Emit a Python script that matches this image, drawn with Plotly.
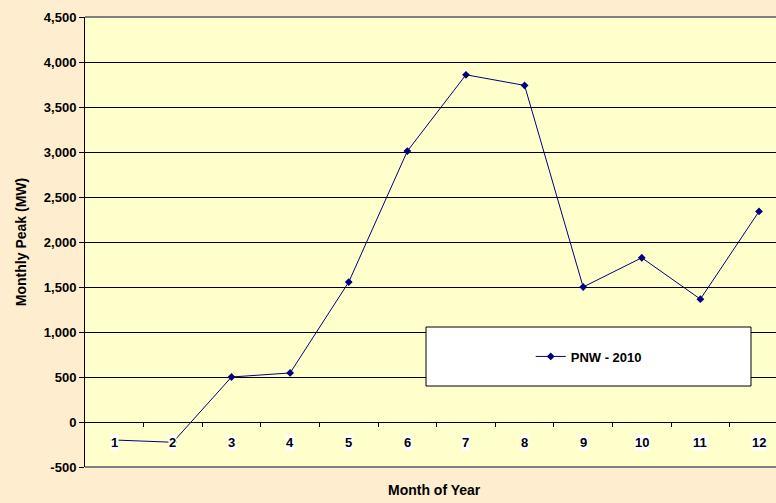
import plotly.graph_objects as go

months = list(range(1, 13))
month_labels = [str(m) for m in months]
peak_mw = [-200, -225, 500, 545, 1555, 3010, 3858, 3740, 1500, 1825, 1365, 2340]
series_name = "PNW - 2010"

y_ticks = list(range(-500, 5000, 500))
y_ticklabels = [f"{v:,}" for v in y_ticks]
cat_boundaries = [m + 0.5 for m in months[:-1]]

navy = "#000080"
font_family = "Liberation Sans, Arial, sans-serif"

fig = go.Figure()
fig.add_trace(go.Scatter(
    x=months, y=peak_mw, name=series_name, mode="lines+markers",
    line=dict(color=navy, width=1),
    marker=dict(symbol="diamond", size=6, color=navy),
))

# category labels sitting just below the zero line, with white boxes
for m, lab in zip(months, month_labels):
    fig.add_annotation(
        x=m, y=-233, xref="x", yref="y", text=lab, showarrow=False,
        bgcolor="white", borderpad=0,
        font=dict(family=font_family, size=13, color="black", weight="bold"),
    )

fig.update_layout(
    width=776, height=503,
    margin=dict(l=85, r=0, t=17, b=36),
    paper_bgcolor="#FFEDCF",
    plot_bgcolor="#FFFFCC",
    font=dict(family=font_family, size=12, color="black"),
    showlegend=True,
    legend=dict(
        x=0.729, y=0.2456, xanchor="center", yanchor="middle",
        bgcolor="rgba(0,0,0,0)", borderwidth=0,
        font=dict(family=font_family, size=13, color="black", weight="bold"),
        itemwidth=30,
    ),
    xaxis=dict(
        range=[0.5, 12.29], tickvals=cat_boundaries,
        ticktext=["" for _ in cat_boundaries],
        ticks="outside", ticklen=4, tickcolor="black",
        showgrid=False, zeroline=False, showline=False,
        anchor="free", position=0.1,
    ),
    yaxis=dict(
        range=[-500, 4500], tickvals=y_ticks, ticktext=y_ticklabels,
        ticks="outside", ticklen=5, tickcolor="black",
        showgrid=True, gridcolor="black", gridwidth=1,
        zeroline=True, zerolinecolor="black", zerolinewidth=1,
        showline=True, linecolor="black", linewidth=1,
        tickfont=dict(family=font_family, size=13, color="black", weight="bold"),
        title=dict(text="Monthly Peak (MW)", standoff=13,
                   font=dict(family=font_family, size=14, weight="bold")),
    ),
)

# legend box
fig.add_shape(type="rect", xref="paper", yref="paper",
              x0=0.4935, x1=0.9638, y0=0.18, y1=0.3111,
              fillcolor="white", line=dict(color="black", width=1), layer="above")
# top and bottom plot borders (gray)
fig.add_shape(type="line", xref="paper", yref="paper", x0=0, x1=1, y0=1, y1=1,
              line=dict(color="#808080", width=2), layer="below")
fig.add_shape(type="line", xref="paper", yref="paper", x0=0, x1=1, y0=0, y1=0,
              line=dict(color="#808080", width=2), layer="above")

fig.add_annotation(
    x=0.506, y=-0.051, xref="paper", yref="paper", xanchor="center", yanchor="middle",
    text="Month of Year", showarrow=False,
    font=dict(family=font_family, size=14, color="black", weight="bold"),
)

fig.write_html("out.html", config={"displayModeBar": False},
               post_script="document.body.style.margin='0';document.body.style.overflow='hidden';")
